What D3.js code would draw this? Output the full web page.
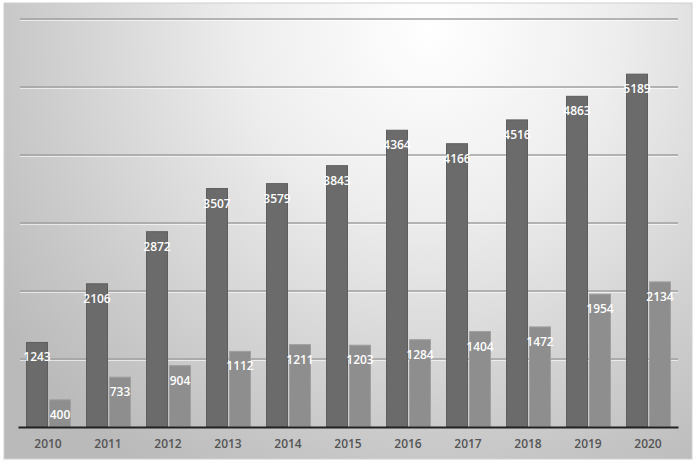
<!DOCTYPE html>
<html><head><meta charset="utf-8">
<script src="https://cdn.jsdelivr.net/npm/d3@7"></script>
<style>body{margin:0;background:#fff}svg{display:block}</style>
</head><body>
<script>
const years = ["2010","2011","2012","2013","2014","2015","2016","2017","2018","2019","2020"];
const seriesA = [1243,2106,2872,3507,3579,3843,4364,4166,4516,4863,5189];
const seriesB = [400,733,904,1112,1211,1203,1284,1404,1472,1954,2134];
const yTicks = [0,1000,2000,3000,4000,5000,6000];

const W = 697, H = 464;
const svg = d3.select("body").append("svg").attr("width", W).attr("height", H);
const defs = svg.append("defs");
const rg = defs.append("radialGradient").attr("id","bg")
  .attr("gradientUnits","userSpaceOnUse").attr("cx",430).attr("cy",30).attr("r",520);
rg.append("stop").attr("offset","0").attr("stop-color","#ffffff");
rg.append("stop").attr("offset","0.35").attr("stop-color","#eeeeee");
rg.append("stop").attr("offset","0.75").attr("stop-color","#cdcdcd");
rg.append("stop").attr("offset","1").attr("stop-color","#bababa");

svg.append("rect").attr("x",4).attr("y",3).attr("width",688).attr("height",456)
  .attr("fill","url(#bg)").attr("stroke","#d0d0d0").attr("stroke-width",1);

const x = d3.scaleBand().domain(years).range([18,678]);
const y = d3.scaleLinear().domain([0,6000]).range([427,19]);

// gridlines
const g = svg.append("g");
g.selectAll("line.s").data(yTicks.slice(1)).join("line")
  .attr("x1",20).attr("x2",678).attr("y1",d=>y(d)+1.5).attr("y2",d=>y(d)+1.5)
  .attr("stroke","#ffffff").attr("stroke-opacity",0.6).attr("stroke-width",1.2);
g.selectAll("line.g").data(yTicks.slice(1)).join("line")
  .attr("x1",20).attr("x2",678).attr("y1",d=>y(d)).attr("y2",d=>y(d))
  .attr("stroke","#a0a0a0").attr("stroke-width",1.5);

const bw = 21, gap = 2;
const data = years.map((yr,i)=>({yr,a:seriesA[i],b:seriesB[i]}));

svg.append("g").selectAll("rect").data(data).join("rect")
  .attr("x",d=>x(d.yr)+x.bandwidth()/2 - bw - gap/2 + 0.5)
  .attr("y",d=>y(d.a)).attr("width",bw).attr("height",d=>y(0)-y(d.a))
  .attr("fill","#6b6b6b").attr("stroke","#5e5e5e").attr("stroke-width",1);
svg.append("g").selectAll("rect").data(data).join("rect")
  .attr("x",d=>x(d.yr)+x.bandwidth()/2 + gap/2 + 0.5)
  .attr("y",d=>y(d.b)).attr("width",bw).attr("height",d=>y(0)-y(d.b))
  .attr("fill","#8e8e8e").attr("stroke","#a0a0a0").attr("stroke-width",1);

const lab = svg.append("g").attr("font-family","Open Sans, Noto Sans, sans-serif")
  .attr("font-size",12).attr("font-weight",600).attr("fill","#fff").attr("text-anchor","middle");
lab.selectAll("text.a").data(data).join("text")
  .attr("x",d=>x(d.yr)+x.bandwidth()/2 - bw/2 - gap/2 + 0.5)
  .attr("y",d=>y(d.a)+19).text(d=>d.a);
lab.selectAll("text.b").data(data).join("text")
  .attr("x",d=>x(d.yr)+x.bandwidth()/2 + bw/2 + gap/2 + 0.5)
  .attr("y",d=>y(d.b)+19).text(d=>d.b);

// axis
const ax = svg.append("g").attr("transform","translate(0,427)")
  .call(d3.axisBottom(x).tickSize(0).tickPadding(12));
ax.select(".domain").attr("stroke","#222").attr("stroke-width",2.2);
ax.selectAll("text").attr("font-family","Open Sans, Noto Sans, sans-serif")
  .attr("font-size",12).attr("fill","#555").attr("font-weight",600);
</script>
</body></html>
